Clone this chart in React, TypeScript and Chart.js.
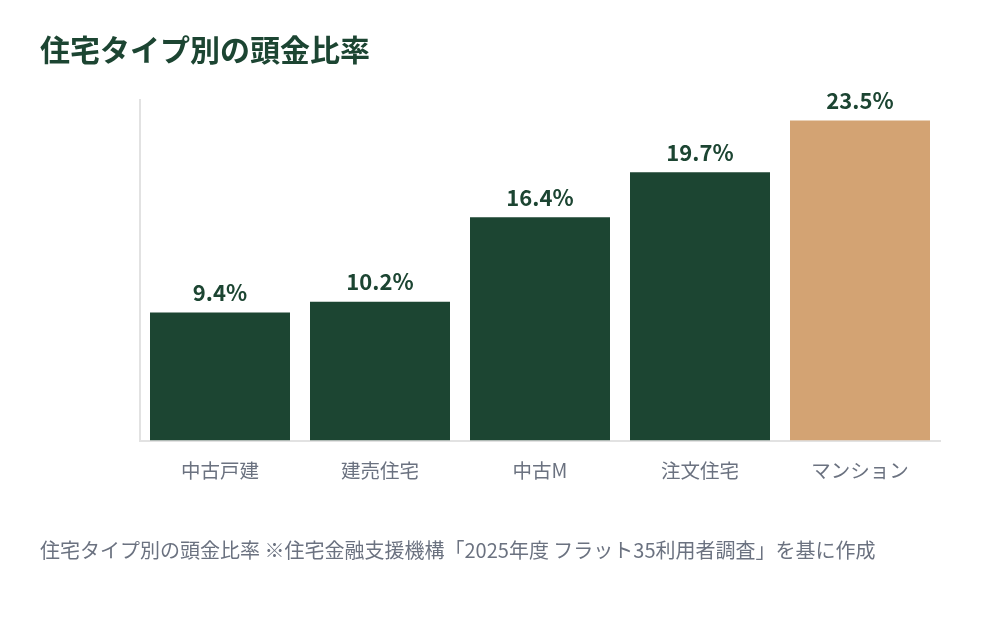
import React, { useEffect, useRef } from 'react';
import Chart from 'chart.js/auto';

const categories = ['中古戸建', '建売住宅', '中古M', '注文住宅', 'マンション'];
const downPaymentRates = [9.4, 10.2, 16.4, 19.7, 23.5];
const barColors = ['#1c4532', '#1c4532', '#1c4532', '#1c4532', '#d3a373'];

const FONT = '"Noto Sans CJK JP", "Noto Sans", sans-serif';

const valueLabels = {
  id: 'valueLabels',
  afterDatasetsDraw(chart: Chart) {
    const { ctx } = chart;
    const meta = chart.getDatasetMeta(0);
    ctx.save();
    ctx.font = `bold 22px ${FONT}`;
    ctx.fillStyle = '#1c4532';
    ctx.textAlign = 'center';
    ctx.textBaseline = 'bottom';
    meta.data.forEach((bar: any, i: number) => {
      ctx.fillText(downPaymentRates[i].toFixed(1) + '%', bar.x, bar.y - 9);
    });
    ctx.restore();
  }
};

const App: React.FC = () => {
  const chartRef = useRef<HTMLCanvasElement>(null);
  const chartInstance = useRef<Chart | null>(null);

  useEffect(() => {
    document.body.style.margin = '0';
    if (!chartRef.current) return;
    const ctx = chartRef.current.getContext('2d');
    if (!ctx) return;

    chartInstance.current = new Chart(ctx, {
      type: 'bar',
      data: {
        labels: categories,
        datasets: [{
          data: downPaymentRates,
          backgroundColor: barColors,
          categoryPercentage: 1,
          barPercentage: 0.875
        }]
      },
      options: {
        animation: false,
        responsive: false,
        maintainAspectRatio: false,
        layout: {
          padding: { left: 132, right: 60, top: 100, bottom: 128 }
        },
        plugins: {
          legend: { display: false },
          tooltip: { enabled: false }
        },
        scales: {
          x: {
            grid: { display: false },
            border: { color: '#e2e2e2', width: 2 },
            ticks: {
              color: '#6b7280',
              padding: 10,
              font: { family: FONT, size: 19.5 }
            }
          },
          y: {
            min: 0,
            max: 25,
            grid: { display: false },
            border: { color: '#e2e2e2', width: 2 },
            ticks: { display: false }
          }
        }
      },
      plugins: [valueLabels]
    });

    return () => {
      if (chartInstance.current) {
        chartInstance.current.destroy();
      }
    };
  }, []);

  return (
    <div style={{ position: 'relative', width: 1000, height: 620, background: '#fff', fontFamily: FONT }}>
      <canvas ref={chartRef} width={1000} height={620} style={{ position: 'absolute', left: 0, top: 0 }} />
      <div style={{ position: 'absolute', left: 40, top: 26, fontSize: 30, fontWeight: 'bold', color: '#1c4532' }}>
        住宅タイプ別の頭金比率
      </div>
      <div style={{ position: 'absolute', left: 40, top: 535, fontSize: 20, color: '#6b7280' }}>
        住宅タイプ別の頭金比率 ※住宅金融支援機構「2025年度 フラット35利用者調査」を基に作成
      </div>
    </div>
  );
};

export default App;
